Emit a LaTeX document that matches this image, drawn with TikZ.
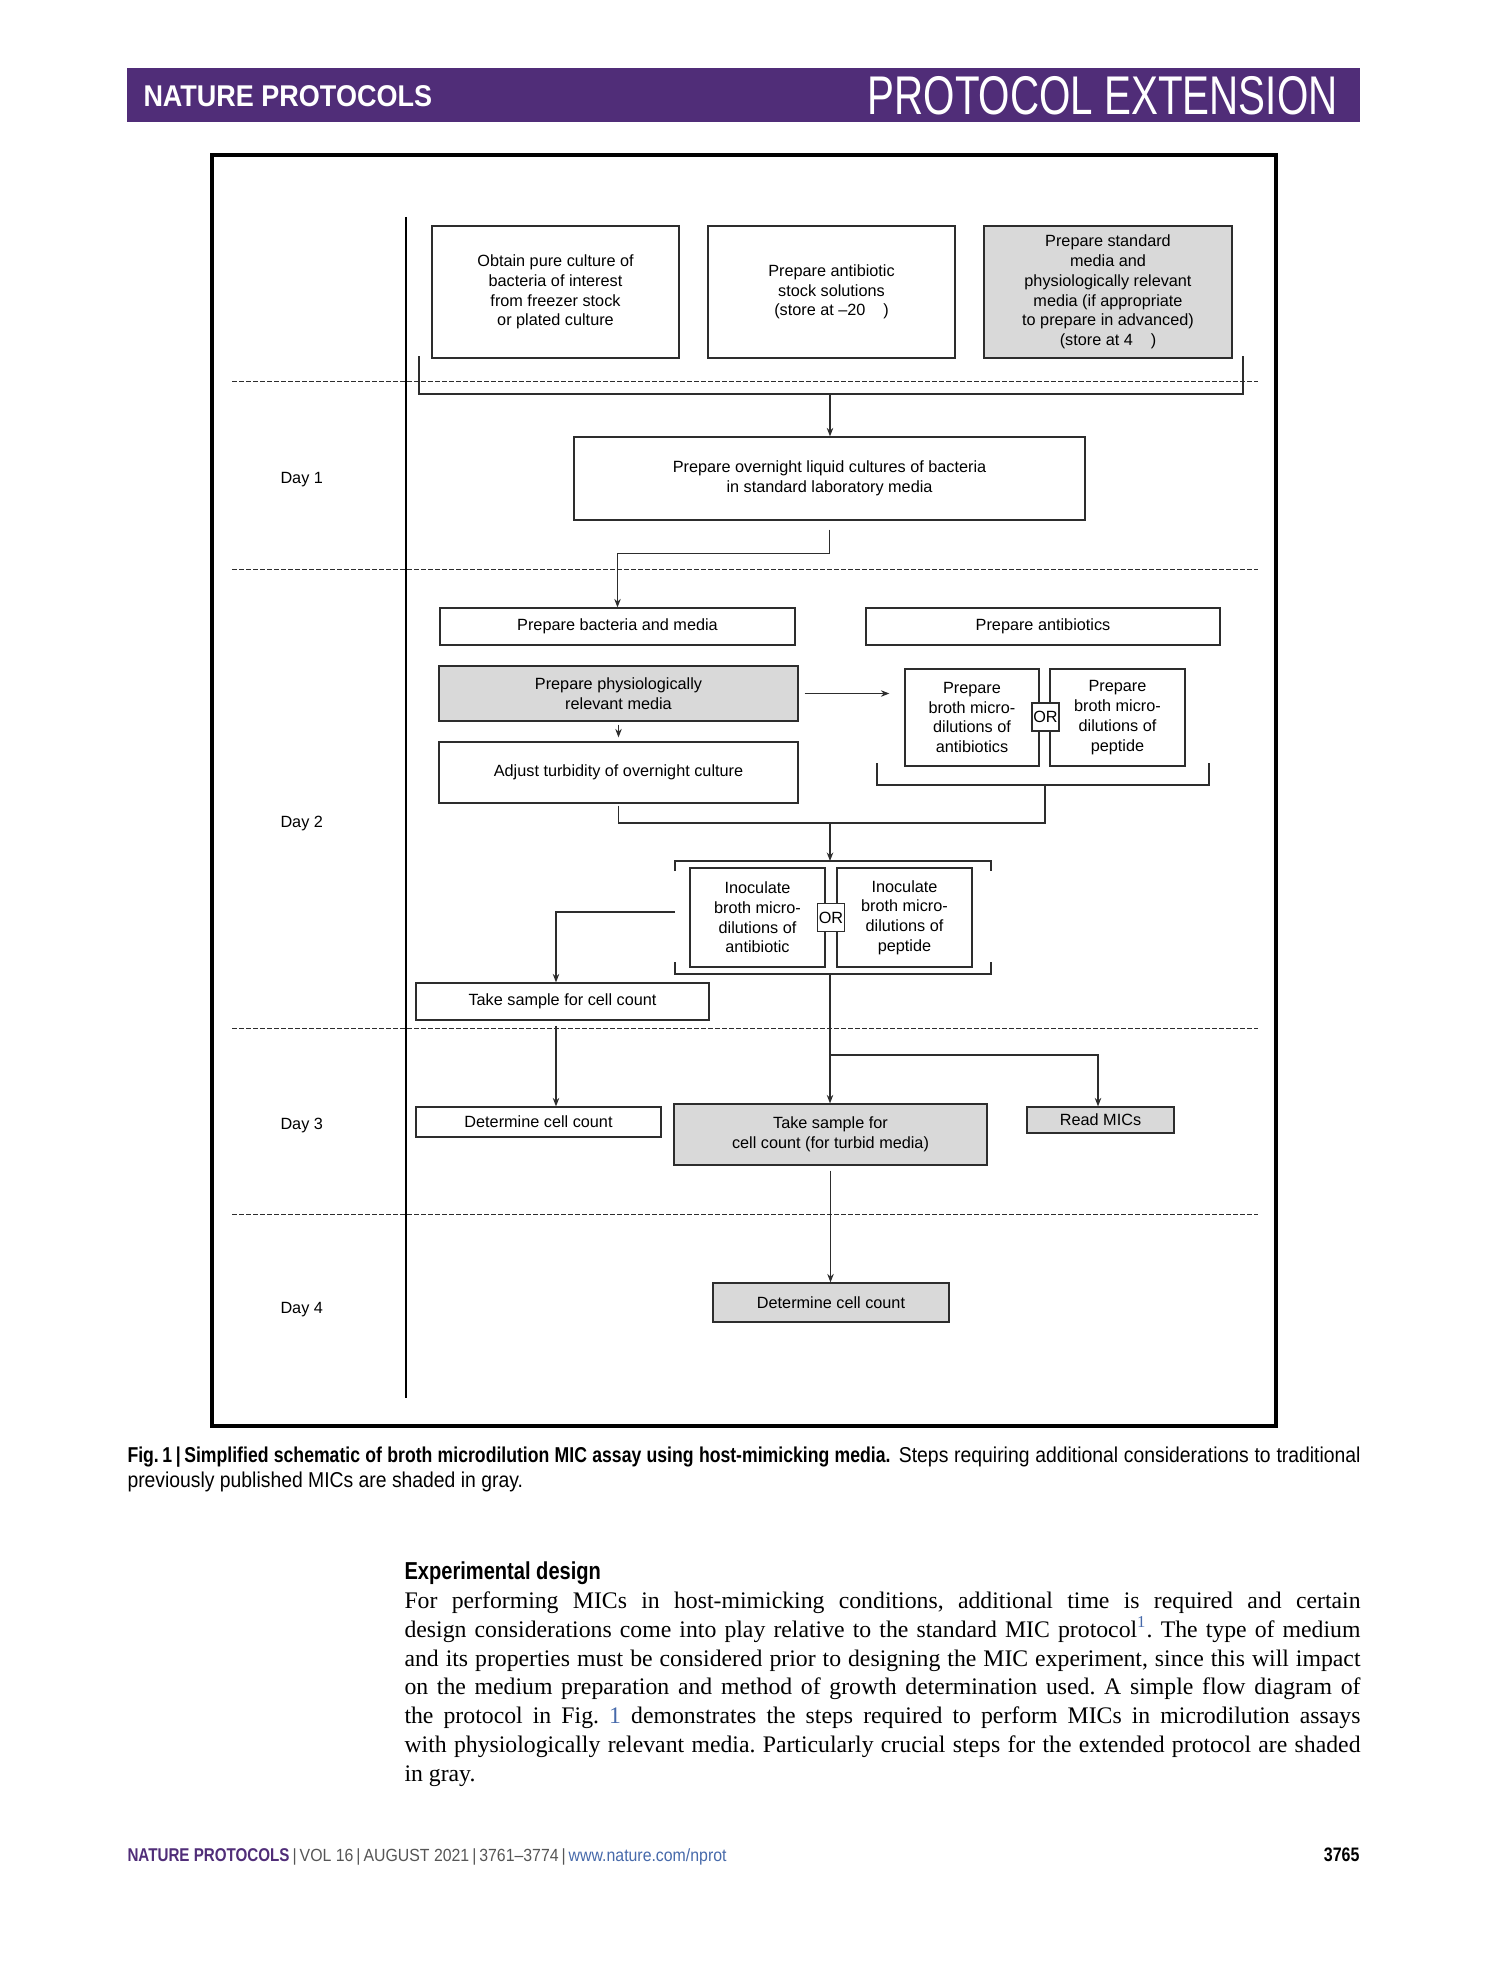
\documentclass[tikz,border=0pt]{standalone}
\usepackage{fontspec}
\setmainfont{Liberation Serif}
\newfontfamily\figfont{Liberation Sans}
\newfontfamily\capfont{Liberation Sans}[FakeStretch=0.9]
\newfontfamily\capbold{Liberation Sans}[FakeStretch=0.82]
\newfontfamily\titlefont{Liberation Sans}[FakeStretch=0.74]
\usetikzlibrary{arrows.meta,calc}
\definecolor{HeadClr}{RGB}{80,45,120}
\definecolor{BoxClr}{RGB}{217,217,217}
\definecolor{LineClr}{RGB}{45,45,45}
\definecolor{LinkClr}{RGB}{70,105,170}
\definecolor{FootClr}{RGB}{85,85,85}

\begin{document}
\begin{tikzpicture}[x=0.4pt,y=-0.4pt,
  stepbox/.style={draw=LineClr,line width=0.5pt,fill=white,align=center,inner sep=0pt,font=\figfont\fontsize{6.5}{7.9}\selectfont},
  shadedbox/.style={stepbox,fill=BoxClr},
  orbox/.style={stepbox,minimum width=10.8pt,minimum height=11.2pt},
  link/.style={draw=LineClr,line width=0.5pt},
  arr/.style={link,-{Stealth[length=3.4pt,width=2.6pt]}},
  dayline/.style={draw=LineClr,line width=0.4pt,dash pattern=on 2pt off 0.8pt},
  daylabel/.style={anchor=west,inner sep=0pt,font=\figfont\fontsize{6.5}{7.9}\selectfont}]
\useasboundingbox (0,0) rectangle (1489,1978);

\fill[HeadClr] (127,68) rectangle (1360,122);
\node[anchor=west,inner sep=0pt,text=white,font=\capfont\bfseries\fontsize{12}{14}\selectfont] (journal) at (143,96) {NATURE PROTOCOLS};
\node[anchor=east,inner sep=0pt,text=white,font=\titlefont\fontsize{21.8}{24}\selectfont] (section) at (1338,96) {PROTOCOL EXTENSION};

\draw[line width=1.4pt] (212,155) rectangle (1276,1426);
\draw[line width=0.8pt] (406,217) -- (406,1398);
\foreach \y in {381,569,1028,1214} \draw[dayline] (232,\y) -- (1258,\y);
\node[daylabel] (day1) at (280,480) {Day 1};
\node[daylabel] (day2) at (280,824) {Day 2};
\node[daylabel] (day3) at (280,1126) {Day 3};
\node[daylabel] (day4) at (280,1310) {Day 4};

\node[stepbox,minimum width=98.8pt,minimum height=52.8pt] (pure) at (555.5,292) {Obtain pure culture of\\bacteria of interest\\from freezer stock\\or plated culture};
\node[stepbox,minimum width=98.8pt,minimum height=52.8pt] (stock) at (831.5,292) {Prepare antibiotic\\stock solutions\\(store at –20\hspace{1.1em})};
\node[shadedbox,minimum width=99.2pt,minimum height=52.8pt] (media) at (1108,292) {Prepare standard\\media and\\physiologically relevant\\media (if appropriate\\to prepare in advanced)\\(store at 4\hspace{1.1em})};
\node[stepbox,minimum width=204.4pt,minimum height=33.2pt] (overnight) at (829.5,478.5) {Prepare overnight liquid cultures of bacteria\\in standard laboratory media};
\node[stepbox,minimum width=142pt,minimum height=14.8pt] (bactmedia) at (617.5,626.5) {Prepare bacteria and media};
\node[stepbox,minimum width=141.6pt,minimum height=14.8pt] (antibiotics) at (1043,626.5) {Prepare antibiotics};
\node[shadedbox,minimum width=143.6pt,minimum height=22pt] (physmedia) at (618.5,693.5) {Prepare physiologically\\relevant media};
\node[stepbox,minimum width=143.6pt,minimum height=24.4pt] (turbidity) at (618.5,772.5) {Adjust turbidity of overnight culture};
\node[stepbox,minimum width=53.6pt,minimum height=38.8pt] (dilab) at (972,717.5) {Prepare\\broth micro-\\dilutions of\\antibiotics};
\node[stepbox,minimum width=54pt,minimum height=38.8pt] (dilpep) at (1117.5,717.5) {Prepare\\broth micro-\\dilutions of\\peptide};
\node[orbox] (orprep) at (1045.5,717) {OR};
\node[stepbox,minimum width=54pt,minimum height=39.6pt] (inocab) at (757.5,917.5) {Inoculate\\broth micro-\\dilutions of\\antibiotic};
\node[stepbox,minimum width=54pt,minimum height=39.6pt] (inocpep) at (904.5,917.5) {Inoculate\\broth micro-\\dilutions of\\peptide};
\node[orbox] (orinoc) at (831,917.5) {OR};
\node[stepbox,minimum width=117.2pt,minimum height=14.8pt] (sample) at (562.5,1001.5) {Take sample for cell count};
\node[stepbox,minimum width=98pt,minimum height=12pt] (count) at (538.5,1122) {Determine cell count};
\node[shadedbox,minimum width=125.2pt,minimum height=24.4pt] (turbsample) at (830.5,1134.5) {Take sample for\\cell count (for turbid media)};
\node[shadedbox,minimum width=58.8pt,minimum height=10.4pt] (mics) at (1100.5,1120) {Read MICs};
\node[shadedbox,minimum width=94.4pt,minimum height=15.6pt] (finalcount) at (831,1302.5) {Determine cell count};

\coordinate (topL) at (419,356);
\coordinate (topR) at (1243,356);
\coordinate (topM) at (830,394);
\draw[link] (topL) -- ++(0,38) -| (topR);
\draw[arr] (topM) -- (topM |- overnight.north);
\draw[arr,shorten <=3.6pt] (overnight.south) -- ++(0,33) -| (bactmedia.north);
\draw[arr,shorten <=2.4pt,shorten >=6pt] (physmedia.east) -- (physmedia.east -| dilab.west);
\draw[arr,shorten <=1.2pt,shorten >=1.6pt] (physmedia.south) -- (turbidity.north);

\coordinate (dilL) at (877,763);
\coordinate (dilR) at (1209,763);
\coordinate (dilM) at (1045,785);
\coordinate (join) at (1045,823);
\draw[link] (dilL) -- ++(0,22) -| (dilR);
\draw[link,shorten <=0.8pt] (turbidity.south) |- (join) -- (dilM);

\coordinate (inTL) at (675,871);
\coordinate (inTR) at (991,871);
\coordinate (inBL) at (675,962);
\coordinate (inBR) at (991,962);
\coordinate (inTM) at (830,861);
\coordinate (inBM) at (830,974);
\coordinate (inL) at (675,912);
\coordinate (split) at (830,1055);
\draw[link] (inTL) -- ++(0,-10) -| (inTR);
\draw[link] (inBL) -- ++(0,12) -| (inBR);
\draw[arr] (inTM |- join) -- (inTM);
\draw[arr] (inL) -| ([xshift=-2.6pt]sample.north);
\draw[arr,shorten <=2pt] ([xshift=-2.6pt]sample.south) -- ([xshift=-2.6pt]sample.south |- count.north);
\draw[arr] (inBM) -- (inBM |- turbsample.north);
\draw[arr] (split) -| ([xshift=-1pt]mics.north);
\draw[arr,shorten <=2pt] (turbsample.south) -- (turbsample.south |- finalcount.north);

\node[anchor=north west,text width=493.2pt,align=justify,inner sep=0pt,font=\capfont\fontsize{8.6}{10}\selectfont] (caption) at (127,1446) {{\capbold\bfseries Fig.\,1\,|\,Simplified schematic of broth microdilution MIC assay using host-mimicking media.} Steps requiring additional considerations to traditional\linebreak previously published MICs are shaded in gray.};

\node[anchor=north west,inner sep=0pt,font=\capbold\bfseries\fontsize{9.8}{12}\selectfont] (heading) at (404,1561) {Experimental design};
\node[anchor=north west,text width=382.4pt,align=justify,inner sep=0pt,font=\fontsize{9.5}{11.56}\selectfont] (body) at (404,1591) {\frenchspacing\hyphenpenalty=10000\exhyphenpenalty=10000
For performing MICs in host-mimicking conditions, additional time is required and certain\linebreak
design considerations come into play relative to the standard MIC protocol\textsuperscript{\textcolor{LinkClr}{1}}. The type of medium\linebreak
and its properties must be considered prior to designing the MIC experiment, since this will impact\linebreak
on the medium preparation and method of growth determination used. A simple flow diagram of\linebreak
the protocol in Fig.~\textcolor{LinkClr}{1} demonstrates the steps required to perform MICs in microdilution assays\linebreak
with physiologically relevant media. Particularly crucial steps for the extended protocol are shaded\linebreak
in gray.};

\node[anchor=base west,inner sep=0pt,font=\capfont\fontsize{7.4}{9}\selectfont] (footer) at (127,1861) {{\capbold\bfseries\color{HeadClr}NATURE PROTOCOLS}\,{\fontsize{7.05}{9}\selectfont\color{FootClr}|\,VOL 16\,|\,AUGUST 2021\,|\,3761–3774\,|\,}{\fontsize{7.05}{9}\selectfont\color{LinkClr}www.nature.com/nprot}};
\node[anchor=base east,inner sep=0pt,font=\capbold\bfseries\fontsize{7.8}{9}\selectfont] (page) at (1360,1861) {3765};
\end{tikzpicture}
\end{document}
